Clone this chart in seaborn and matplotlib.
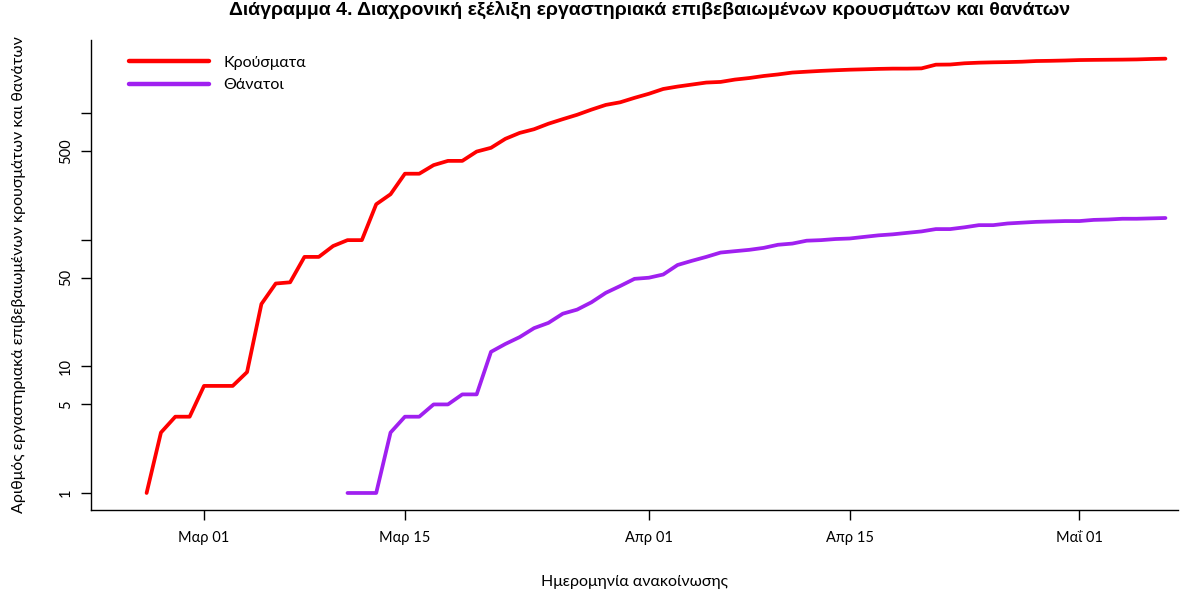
import matplotlib
matplotlib.use("Agg")
import matplotlib.pyplot as plt
import seaborn as sns
import pandas as pd

# cumulative confirmed cases, daily from 2020-02-26
cases_start = "2020-02-26"
cases = [1, 3, 4, 4, 7, 7, 7, 9, 31, 45, 46, 73, 73, 89, 99, 99, 190, 228,
         331, 331, 387, 418, 418, 495, 530, 624, 695, 743, 821, 892, 966,
         1061, 1156, 1212, 1314, 1415, 1544, 1613, 1673, 1735, 1755, 1832,
         1884, 1955, 2011, 2081, 2114, 2145, 2170, 2192, 2207, 2224, 2235,
         2235, 2245, 2401, 2408, 2463, 2490, 2506, 2517, 2534, 2566, 2576,
         2591, 2612, 2620, 2626, 2632, 2642, 2663, 2678]

# cumulative deaths, daily from 2020-03-11
deaths_start = "2020-03-11"
deaths = [1, 1, 1, 3, 4, 4, 5, 5, 6, 6, 13, 15, 17, 20, 22, 26, 28, 32, 38,
          43, 49, 50, 53, 63, 68, 73, 79, 81, 83, 86, 91, 93, 98, 99, 101,
          102, 105, 108, 110, 113, 116, 121, 121, 125, 130, 130, 134, 136,
          138, 139, 140, 140, 143, 144, 146, 146, 147, 148]

series_names = ["Κρούσματα", "Θάνατοι"]
series_colors = ["#FF0000", "#A020F0"]

y_ticks = [1, 5, 10, 50, 100, 500, 1000]
y_labels = ["1", "5", "10", "50", "", "500", ""]
x_ticks = ["2020-03-01", "2020-03-15", "2020-04-01", "2020-04-15", "2020-05-01"]
x_labels = ["Μαρ 01", "Μαρ 15", "Απρ 01", "Απρ 15", "Μαΐ 01"]

df = pd.concat([
    pd.DataFrame({"date": pd.date_range(cases_start, periods=len(cases)),
                  "value": cases, "series": series_names[0]}),
    pd.DataFrame({"date": pd.date_range(deaths_start, periods=len(deaths)),
                  "value": deaths, "series": series_names[1]}),
])

sns.set_style("ticks")
plt.rcParams["font.family"] = ["Lato", "DejaVu Sans"]
plt.rcParams["text.color"] = "black"
plt.rcParams["axes.labelcolor"] = "black"

fig = plt.figure(figsize=(12.04, 5.93), dpi=100)
ax = fig.add_axes([91 / 1204, 1 - 510 / 593, (1178 - 91) / 1204, (510 - 40) / 593])

sns.lineplot(data=df, x="date", y="value", hue="series", palette=series_colors,
             linewidth=2.7, ax=ax)

ax.set_yscale("log")
ax.set_ylim(0.734, 3760)
ax.set_xlim(pd.Timestamp("2020-02-22 03:00"), pd.Timestamp("2020-05-07 21:00"))
ax.yaxis.set_minor_locator(matplotlib.ticker.NullLocator())
ax.set_yticks(y_ticks)
ax.set_yticklabels(y_labels, rotation=90, va="center")
ax.set_xticks(pd.to_datetime(x_ticks))
ax.set_xticklabels(x_labels)
ax.tick_params(axis="both", length=7, width=1, labelsize=10.5, colors="black", pad=8)
ax.tick_params(axis="y", pad=6)

for s in ["top", "right"]:
    ax.spines[s].set_visible(False)
for s in ["left", "bottom"]:
    ax.spines[s].set_color("black")
    ax.spines[s].set_linewidth(1)

ax.set_xlabel("Ημερομηνία ανακοίνωσης", fontsize=11.5, labelpad=22)
ax.set_ylabel("Αριθμός εργαστηριακά επιβεβαιωμένων κρουσμάτων και θανάτων",
              fontsize=11.5, labelpad=24)

leg = ax.legend(loc="upper left", frameon=False, fontsize=11.5, handlelength=5.0,
                handletextpad=0.9, bbox_to_anchor=(0.029, 0.98), borderaxespad=0)
for line in leg.get_lines():
    line.set_linewidth(3.2)

fig.text(650 / 1204, 1 - 1 / 593,
         "Διάγραμμα 4. Διαχρονική εξέλιξη εργαστηριακά επιβεβαιωμένων κρουσμάτων και θανάτων",
         ha="center", va="top", fontsize=14, fontweight="bold",
         family=["Liberation Sans", "DejaVu Sans"])

fig.savefig("out.png", dpi=100)
